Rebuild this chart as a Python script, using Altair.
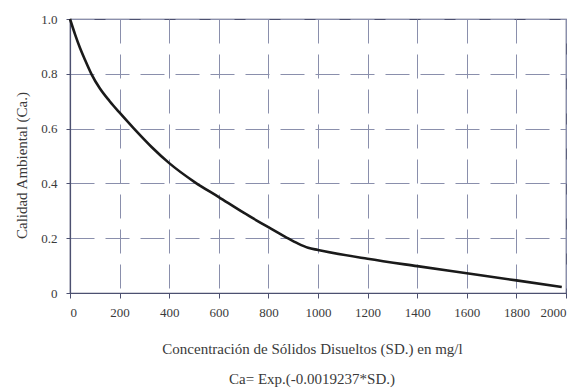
import altair as alt
import pandas as pd

# values
sd = [0, 20, 40, 60, 86, 120, 160, 200, 258, 330, 400, 504, 600, 700, 800, 868, 920, 960, 1000,
      1200, 1400, 1600, 1800, 1983]
ca = [1.0, 0.945, 0.895, 0.852, 0.80, 0.747, 0.70, 0.658, 0.6, 0.532, 0.474, 0.404, 0.35, 0.293,
      0.24, 0.205, 0.18, 0.165, 0.157, 0.125, 0.098, 0.072, 0.046, 0.022]
x_ticks = [0, 200, 400, 600, 800, 1000, 1200, 1400, 1600, 1800, 2000]
y_ticks = [0, 0.2, 0.4, 0.6, 0.8, 1.0]
x_title = "Concentración de Sólidos Disueltos (SD.) en mg/l"
y_title = "Calidad Ambiental (Ca.)"
caption = "Ca= Exp.(-0.0019237*SD.)"

FONT = "Liberation Serif"
GRID = "#8a8fac"
AXIS = "#4c5070"
TEXT = "#3a3a3a"

df = pd.DataFrame({"sd": sd, "ca": ca})
cap_df = pd.DataFrame({"t": [caption]})

x = alt.X("sd:Q", scale=alt.Scale(domain=[0, 2000], nice=False),
          axis=alt.Axis(values=x_ticks, format="d", title=x_title, titleX=242, titleY=60,
                        titleAlign="center", titleBaseline="alphabetic",
                        labelPadding=8, tickSize=5, labelFontSize=13, titleFontSize=15,
                        titleFontWeight="normal"))
y = alt.Y("ca:Q", scale=alt.Scale(domain=[0, 1], nice=False),
          axis=alt.Axis(values=y_ticks, title=y_title,
                        labelExpr="datum.value == 0 ? '0' : format(datum.value, '.1f')",
                        labelPadding=9, tickSize=4, labelFontSize=13, titleFontSize=15,
                        titleFontWeight="normal", titleX=-49, titleY=146, titleAngle=270,
                        titleAlign="center", titleBaseline="middle"))

line = alt.Chart(df).mark_line(color="#1a1a1a", strokeWidth=2.6, interpolate="monotone").encode(
    x=x, y=y)

cap = alt.Chart(cap_df).mark_text(font=FONT, fontSize=15, color=TEXT, align="center",
                                  baseline="alphabetic").encode(
    text="t:N", x=alt.value(242), y=alt.value(365))

chart = (line + cap).properties(
    width=496, height=274,
    autosize=alt.AutoSizeParams(type="none"),
    padding={"left": 62, "top": 11, "right": 6, "bottom": 97},
).configure(background="white").configure_view(
    stroke=AXIS, strokeWidth=1.2
).configure_axis(
    grid=True, gridColor=GRID, gridDash=[24, 11], gridWidth=1, gridOpacity=1,
    domainColor=AXIS, domainWidth=1.2, tickColor=AXIS, tickWidth=1,
    labelFont=FONT, titleFont=FONT, labelColor=TEXT, titleColor=TEXT,
)

chart.save("out.html", embed_options={"renderer": "svg", "actions": False})
